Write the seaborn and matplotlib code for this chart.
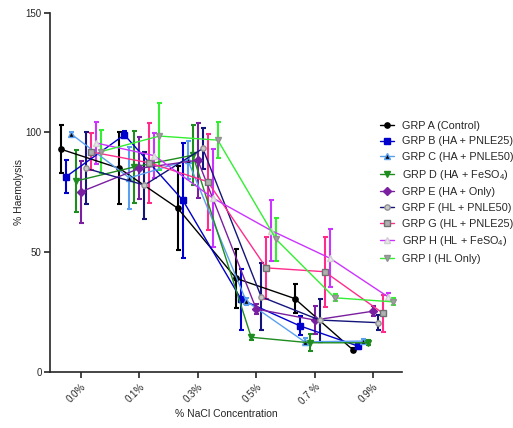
#!/usr/bin/env python
# -*- coding: utf-8 -*-

"""Haemolysis vs NaCl concentration, grouped points with SD bars."""

import numpy as np
import pandas as pd
import seaborn as sns
import matplotlib.pyplot as plt

# %% Data (mean, SD).

concentrations = ["0.0%", "0.1%", "0.3%", "0.5%", "0.7 %", "0.9%"]

groups = [
    "GRP A (Control)",
    "GRP B (HA + PNLE25)",
    "GRP C (HA + PNLE50)",
    "GRP D (HA + FeSO$_4$)",
    "GRP E (HA + Only)",
    "GRP F (HL + PNLE50)",
    "GRP G (HL + PNLE25)",
    "GRP H (HL + FeSO$_4$)",
    "GRP I (HL Only)",
]

grp_a = [93.0, 85.0, 68.3, 39.0, 30.6, 9.1]
grp_b = [81.5, 99.0, 71.7, 30.2, 19.2, 10.7]
grp_c = [99.4, 81.0, 88.4, 29.5, 12.5, 12.8]
grp_d = [79.7, 85.6, 90.5, 14.4, 12.1, 12.1]
grp_e = [75.2, 85.0, 88.4, 26.2, 21.6, 25.3]
grp_f = [85.0, 78.0, 93.3, 31.3, 21.6, 20.5]
grp_g = [91.9, 87.3, 79.4, 43.4, 41.8, 24.4]
grp_h = [95.6, 90.3, 72.6, 59.0, 47.5, 31.3]
grp_i = [92.0, 98.5, 96.8, 55.3, 30.9, 29.2]

sd_a = [10.0, 15.0, 17.6, 12.4, 6.0, 1.0]
sd_b = [7.0, 1.5, 24.0, 12.7, 4.0, 1.0]
sd_c = [1.0, 13.0, 8.0, 1.5, 1.5, 1.0]
sd_d = [13.0, 15.0, 12.5, 1.0, 3.5, 1.0]
sd_e = [13.0, 13.0, 15.7, 2.0, 6.0, 2.0]
sd_f = [15.0, 14.0, 8.7, 14.0, 9.0, 3.0]
sd_g = [7.7, 16.8, 20.0, 13.0, 14.6, 7.6]
sd_h = [8.8, 9.5, 20.6, 12.8, 12.2, 1.5]
sd_i = [9.0, 14.0, 7.5, 9.0, 1.5, 1.5]

means = [grp_a, grp_b, grp_c, grp_d, grp_e, grp_f, grp_g, grp_h, grp_i]
sds = [sd_a, sd_b, sd_c, sd_d, sd_e, sd_f, sd_g, sd_h, sd_i]

# line colour, marker, marker face, marker edge
styles = [
    ("#000000", "o", "#000000", "#000000"),
    ("#0000CC", "s", "#0000CC", "#0000CC"),
    ("#5AA0F0", "^", "#000000", "#5AA0F0"),
    ("#1E8C1E", "v", "#1E8C1E", "#1E8C1E"),
    ("#7A1FA0", "D", "#7A1FA0", "#7A1FA0"),
    ("#14147A", "o", "#C8C8C8", "#909090"),
    ("#FF2C8C", "s", "#B0B0B0", "#707070"),
    ("#CC33FF", "^", "#E8E8E8", "#D0D0D0"),
    ("#33EE33", "v", "#A0A0A0", "#909090"),
]

# %% Build a long table with dodged x positions.

step = 0.0856
rows = []
for g, name in enumerate(groups):
    for i, conc in enumerate(concentrations):
        rows.append({
            "group": name,
            "x": i + (g - 4) * step,
            "mean": means[g][i],
            "sd": sds[g][i],
        })
df = pd.DataFrame(rows)

# %% Plot.

sns.set_theme(style="ticks")
plt.rcParams["font.family"] = ["Liberation Sans", "DejaVu Sans"]
plt.rcParams["mathtext.fontset"] = "custom"
plt.rcParams["mathtext.rm"] = "Liberation Sans"
plt.rcParams["mathtext.it"] = "Liberation Sans"

fig = plt.figure(figsize=(5.13, 4.28), dpi=100)
ax = fig.add_axes([0.0975, 0.1315, 0.6855, 0.8385])

for g, name in enumerate(groups):
    sub = df[df["group"] == name]
    col, mk, face, edge = styles[g]
    ax.errorbar(sub["x"], sub["mean"], yerr=sub["sd"], fmt="none",
                ecolor=col, elinewidth=1.5, capsize=1.8, capthick=1.5,
                zorder=2)
    sns.lineplot(data=sub, x="x", y="mean", ax=ax, color=col,
                 linewidth=1.0, marker=mk, markersize=3.8,
                 markerfacecolor=face, markeredgecolor=edge,
                 markeredgewidth=1.0, label=name, zorder=3,
                 errorbar=None, sort=True)

ax.set_xlim(-0.53, 5.49)
ax.set_ylim(0, 150)
ax.set_yticks([0, 50, 100, 150])
ax.set_xticks(np.arange(len(concentrations)))
ax.set_xticklabels(concentrations, rotation=45, ha="right",
                   rotation_mode="anchor", fontsize=7)
ax.tick_params(axis="y", labelsize=7, length=4, width=1.2, pad=2)
ax.tick_params(axis="x", length=4, width=1.2, pad=3)
ax.set_xlabel("% NaCl Concentration", fontsize=7.5, labelpad=2)
ax.set_ylabel("% Haemolysis", fontsize=7.5, labelpad=1)
for side in ["left", "bottom"]:
    ax.spines[side].set_linewidth(1.2)
sns.despine(ax=ax)

ax.legend(loc="center left", bbox_to_anchor=(0.925, 0.50), frameon=False,
          fontsize=7.8, handlelength=1.3, handletextpad=0.8,
          labelspacing=0.52, borderaxespad=0)

fig.savefig("out.png", dpi=100)
